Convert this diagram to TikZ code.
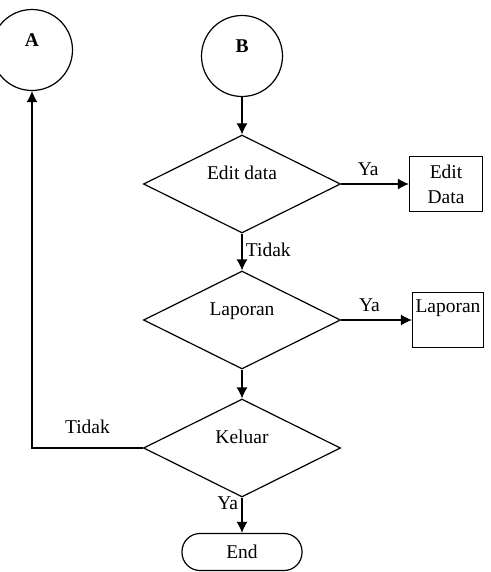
\documentclass[tikz,border=0pt]{standalone}
\usepackage{fontspec}
\setmainfont{Liberation Serif}
\usepackage{tikz}
\usetikzlibrary{shapes.geometric, arrows.meta}
\tikzstyle{startstop} = [rectangle, rounded corners=18pt, minimum width=120pt, minimum height=37pt, text centered, draw=black]
\tikzstyle{process} = [rectangle, inner sep=2pt, minimum height=55pt, align=center, draw=black]
\tikzstyle{decision} = [diamond, aspect=2, inner sep=0pt, minimum width=197pt, minimum height=98pt, text height=13pt, text depth=23pt, draw=black]
\tikzstyle{connector} = [circle, minimum size=81pt, inner sep=0pt, text height=13pt, text depth=20pt, font=\fontsize{19.5}{25}\selectfont\bfseries, draw=black]
\tikzstyle{arrow} = [line width=1.2pt,-{Latex[length=11pt,width=11pt]}]

\begin{document}
\begin{tikzpicture}[x=1pt, y=-1pt, node distance=128pt, line width=1.2pt, font=\fontsize{19.5}{25}\selectfont]
\useasboundingbox (0,0) rectangle (490,572);
\node (conB) [connector] at (242,56) {B};
\node (conA) [connector] at (32,50) {A};
\node (editdec) [decision, below of=conB] {Edit data};
\node (lapdec) [decision, below of=editdec, yshift=-8pt] {Laporan};
\node (keluar) [decision, below of=lapdec] {Keluar};
\node (stop) [startstop, below of=keluar, yshift=24pt] {End};

\node (editbox) [process, right of=editdec, xshift=76pt, minimum width=73pt] {Edit\\Data};
\node (lapbox) [process, right of=lapdec, xshift=78pt, minimum width=69pt, inner sep=3pt, text height=17pt, text depth=32pt] {Laporan};

\draw [arrow] (conB) -- (editdec);
\draw [arrow] (editdec) -- node[right, pos=0.45] {Tidak} (lapdec);
\draw [arrow] (lapdec) -- (keluar);
\draw [arrow] (keluar) -- node[left, pos=0.17] {Ya} (stop);

\draw [arrow] (editdec) -- node[above=4pt, pos=0.4] {Ya} (editbox);
\draw [arrow] (lapdec) -- node[above=4pt, pos=0.4] {Ya} (lapbox);
\draw [arrow] (keluar.west) -| node[pos=0.25, above=10pt] {Tidak} (conA.south);
\end{tikzpicture}
\end{document}
